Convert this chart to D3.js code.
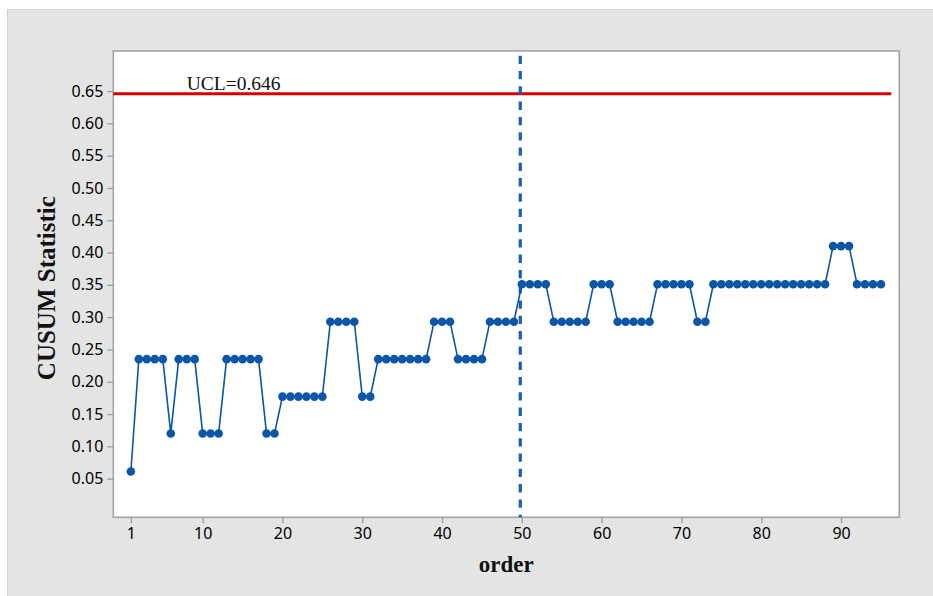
<!DOCTYPE html>
<html>
<head>
<meta charset="utf-8">
<script src="https://cdn.jsdelivr.net/npm/d3@7"></script>
<style>
  html, body { margin: 0; padding: 0; background: #ffffff; }
  svg { display: block; }
</style>
</head>
<body>
<svg id="chart" width="933" height="596"></svg>
<script>
// CUSUM statistic by observation order
const order = d3.range(1, 96);
const cusum = [
  0.061, 0.235, 0.235, 0.235, 0.235, 0.120, 0.235, 0.235, 0.235, 0.120,
  0.120, 0.120, 0.235, 0.235, 0.235, 0.235, 0.235, 0.120, 0.120, 0.177,
  0.177, 0.177, 0.177, 0.177, 0.177, 0.293, 0.293, 0.293, 0.293, 0.177,
  0.177, 0.235, 0.235, 0.235, 0.235, 0.235, 0.235, 0.235, 0.293, 0.293,
  0.293, 0.235, 0.235, 0.235, 0.235, 0.293, 0.293, 0.293, 0.293, 0.351,
  0.351, 0.351, 0.351, 0.293, 0.293, 0.293, 0.293, 0.293, 0.351, 0.351,
  0.351, 0.293, 0.293, 0.293, 0.293, 0.293, 0.351, 0.351, 0.351, 0.351,
  0.351, 0.293, 0.293, 0.351, 0.351, 0.351, 0.351, 0.351, 0.351, 0.351,
  0.351, 0.351, 0.351, 0.351, 0.351, 0.351, 0.351, 0.351, 0.410, 0.410,
  0.410, 0.351, 0.351, 0.351, 0.351
];
const xTicks = [1, 10, 20, 30, 40, 50, 60, 70, 80, 90];
const yTicks = [0.05, 0.10, 0.15, 0.20, 0.25, 0.30, 0.35, 0.40, 0.45, 0.50, 0.55, 0.60, 0.65];
const ucl = 0.646;
const changePoint = 49.8;
const xDomain = [-1.2, 97.3];
const yDomain = [-0.0098, 0.712];

const svg = d3.select("#chart");
const W = 933, H = 596;
const plot = { left: 113.3, top: 51, right: 899.3, bottom: 517.3 };

const x = d3.scaleLinear().domain(xDomain).range([plot.left, plot.right]);
const y = d3.scaleLinear().domain(yDomain).range([plot.bottom, plot.top]);

// grey panel behind everything
svg.append("rect")
  .attr("x", 7.5).attr("y", 9.5)
  .attr("width", W - 7).attr("height", H - 9)
  .attr("fill", "#e4e4e4")
  .attr("stroke", "#d2d2d2").attr("stroke-width", 1);

// white data region
svg.append("rect")
  .attr("x", plot.left).attr("y", plot.top)
  .attr("width", plot.right - plot.left).attr("height", plot.bottom - plot.top)
  .attr("fill", "#ffffff")
  .attr("stroke", "#a3a3a3").attr("stroke-width", 1.6);

const tickFont = "'Noto Sans', 'Open Sans', sans-serif";

// x axis
const xAxis = svg.append("g")
  .attr("transform", `translate(0,${plot.bottom})`)
  .call(d3.axisBottom(x).tickValues(xTicks).tickSize(6).tickPadding(4).tickFormat(d3.format("d")));
xAxis.select(".domain").remove();
xAxis.selectAll(".tick line").attr("stroke", "#9a9a9a").attr("stroke-width", 1.3);
xAxis.selectAll(".tick text")
  .attr("font-family", tickFont).attr("font-size", 16).attr("fill", "#000000");

// y axis
const yAxis = svg.append("g")
  .attr("transform", `translate(${plot.left},0)`)
  .call(d3.axisLeft(y).tickValues(yTicks).tickSize(6).tickPadding(4).tickFormat(d3.format(".2f")));
yAxis.select(".domain").remove();
yAxis.selectAll(".tick line").attr("stroke", "#9a9a9a").attr("stroke-width", 1.3);
yAxis.selectAll(".tick text")
  .attr("font-family", tickFont).attr("font-size", 16).attr("fill", "#000000");

// axis titles
const serif = "'Liberation Serif', 'Times New Roman', serif";
svg.append("text")
  .attr("x", (plot.left + plot.right) / 2).attr("y", 572)
  .attr("text-anchor", "middle")
  .attr("font-family", serif).attr("font-weight", "bold").attr("font-size", 23)
  .attr("fill", "#111111")
  .text("order");
svg.append("text")
  .attr("transform", `translate(55,${(plot.top + plot.bottom) / 2 + 4}) rotate(-90)`)
  .attr("text-anchor", "middle")
  .attr("font-family", serif).attr("font-weight", "bold").attr("font-size", 25)
  .attr("fill", "#111111")
  .text("CUSUM Statistic");

// upper control limit
svg.append("line")
  .attr("x1", plot.left).attr("x2", x(xDomain[1] - 1))
  .attr("y1", y(ucl)).attr("y2", y(ucl))
  .attr("stroke", "#d40000").attr("stroke-width", 3);
svg.append("text")
  .attr("x", x(8)).attr("y", y(ucl) - 4)
  .attr("font-family", serif).attr("font-size", 19.5)
  .attr("fill", "#111111")
  .text("UCL=" + ucl);

// change point marker
svg.append("line")
  .attr("x1", x(changePoint)).attr("x2", x(changePoint))
  .attr("y1", plot.top + 4.7).attr("y2", plot.bottom)
  .attr("stroke", "#1560b3").attr("stroke-width", 3.2)
  .attr("stroke-dasharray", "8.3,7");

// series line and markers
const pts = order.map((o, i) => ({ o, v: cusum[i] }));
svg.append("path")
  .datum(pts)
  .attr("fill", "none")
  .attr("stroke", "#0b56a6").attr("stroke-width", 1.6)
  .attr("d", d3.line().x(d => x(d.o)).y(d => y(d.v)));
svg.append("g")
  .selectAll("circle")
  .data(pts)
  .join("circle")
  .attr("cx", d => x(d.o)).attr("cy", d => y(d.v))
  .attr("r", 4.3)
  .attr("fill", "#0b56a6");
</script>
</body>
</html>
